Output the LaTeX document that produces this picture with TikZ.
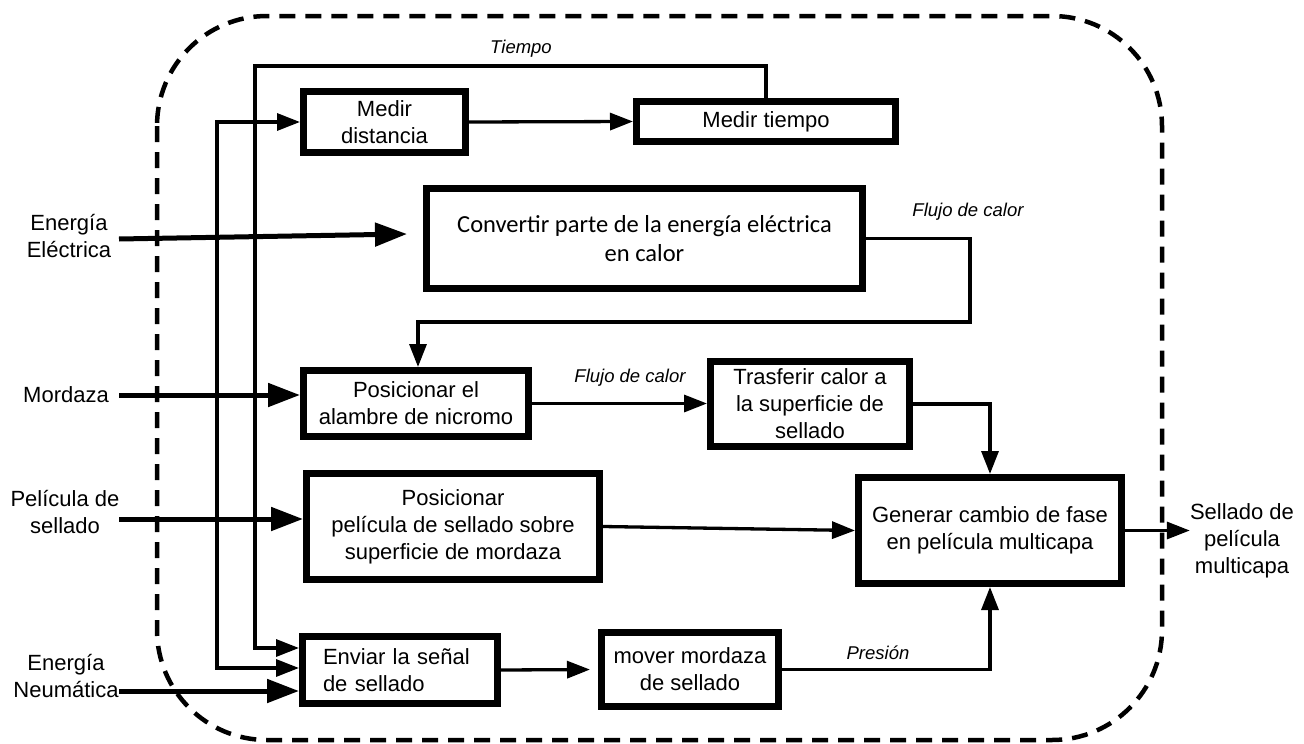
\documentclass[tikz,border=0pt]{standalone}
\usepackage{fontspec}
\setmainfont{Liberation Sans}
\newfontfamily\calibrifont{Carlito}
\usetikzlibrary{arrows.meta,calc}

\begin{document}
\begin{tikzpicture}[x=1pt,y=-1pt,
  every node/.style={font=\fontsize{22}{27}\selectfont},
  box/.style={draw, line width=7pt, align=center, inner sep=0pt},
  conn/.style={line width=3.3pt, -{Triangle[length=23pt,width=17pt]}},
  both/.style={line width=3.3pt, {Triangle[length=23pt,width=17pt]}-{Triangle[length=23pt,width=17pt]}},
  feed/.style={line width=5pt, -{Triangle[length=32pt,width=23pt]}},
  lbl/.style={font=\fontsize{18.5}{21}\selectfont\itshape, inner sep=0pt},
  side/.style={align=center, inner sep=0pt},
  border/.style={line width=4.5pt, dash pattern=on 16pt off 10pt, rounded corners=110pt}
]
\useasboundingbox (0,0) rectangle (1304,744);

% system boundary
\draw[border] (157,16) rectangle (1162,740);

% function blocks
\node[box, minimum width=162, minimum height=61] (md) at (384.5,122) {Medir\\distancia};
\node[box, minimum width=259, minimum height=40] (mt) at (766,121.5) {Medir tiempo};
\node[box, minimum width=436, minimum height=100,
      font=\calibrifont\fontsize{24.5}{29}\selectfont] (cv) at (644.5,238.5)
      {Convertir parte de la energía eléctrica\\en calor};
\node[box, minimum width=225, minimum height=66] (pa) at (416,403.5) {Posicionar el\\alambre de nicromo};
\node[box, minimum width=199, minimum height=85] (tr) at (810,404) {Trasferir calor a\\la superficie de\\sellado};
\node[box, minimum width=293, minimum height=106] (pp) at (453,526.5) {Posicionar\\película de sellado sobre\\superficie de mordaza};
\node[box, minimum width=263, minimum height=106] (gc) at (990,530.5) {Generar cambio de fase\\en película multicapa};
\node[box, align=left, text width=154, inner xsep=20.5, minimum height=67] (en) at (400,670) {Enviar la señal\\de sellado};
\node[box, minimum width=177, minimum height=74] (mm) at (690,669.5) {mover mordaza\\de sellado};

% inputs and output
\node[side] (ee) at (69,236.5) {Energía\\Eléctrica};
\node[side] (mo) at (66,395) {Mordaza};
\node[side] (pe) at (65,512) {Película de\\sellado};
\node[side] (ne) at (66,675.5) {Energía\\Neumática};
\node[side] (so) at (1242,540.5) {Sellado de\\película\\multicapa};

% flow labels
\node[lbl] (tl) at (521,49) {Tiempo};
\node[lbl] (f1) at (968,212) {Flujo de calor};
\node[lbl] (f2) at (630,378) {Flujo de calor};
\node[lbl] (pl) at (878,653) {Presión};

% helper points
\coordinate (inx) at (119,0);
\coordinate (tA) at (255,66);
\coordinate (xA) at (217,122);
\coordinate (fC) at (970,322);
\coordinate (fB) at (418,322);
\coordinate (eeTip) at (407,234);
\coordinate (enT) at ($(en.west)+(0,-22)$);
\coordinate (enM) at ($(en.west)+(0,-2)$);

% external feeds
\draw[feed] ($(ee.east -| inx)+(0,2.5)$) -- (eeTip);
\draw[feed] (mo.east -| inx) -- (mo.east -| pa.west);
\draw[feed] ($(pe.east -| inx)+(0,7)$) -- ($(pe.east -| pp.west)+(0,7)$);
\draw[feed] ($(ne.east -| inx)+(0,15.5)$) -- ($(ne.east -| en.west)+(0,15.5)$);

% internal flows
\draw[conn] (mt.north) |- (tA) -- (tA |- enT) -- (enT);
\draw[both] (enM) -| (xA) -- (xA -| md.west);
\draw[conn] (md.east) -- (mt.west);
\draw[conn] (cv.east) -| (fC) -| (fB |- pa.north);
\draw[conn] (pa.east) -- (tr.west |- pa.east);
\draw[conn] (tr.east) -| (gc.north);
\draw[conn] (pp.east) -- (gc.west);
\draw[conn] (gc.east) -- (gc.east -| so.west);
\draw[conn, shorten >=8pt] (en.east) -- (mm.west);
\draw[conn] (mm.east) -| (gc.south);
\end{tikzpicture}
\end{document}
